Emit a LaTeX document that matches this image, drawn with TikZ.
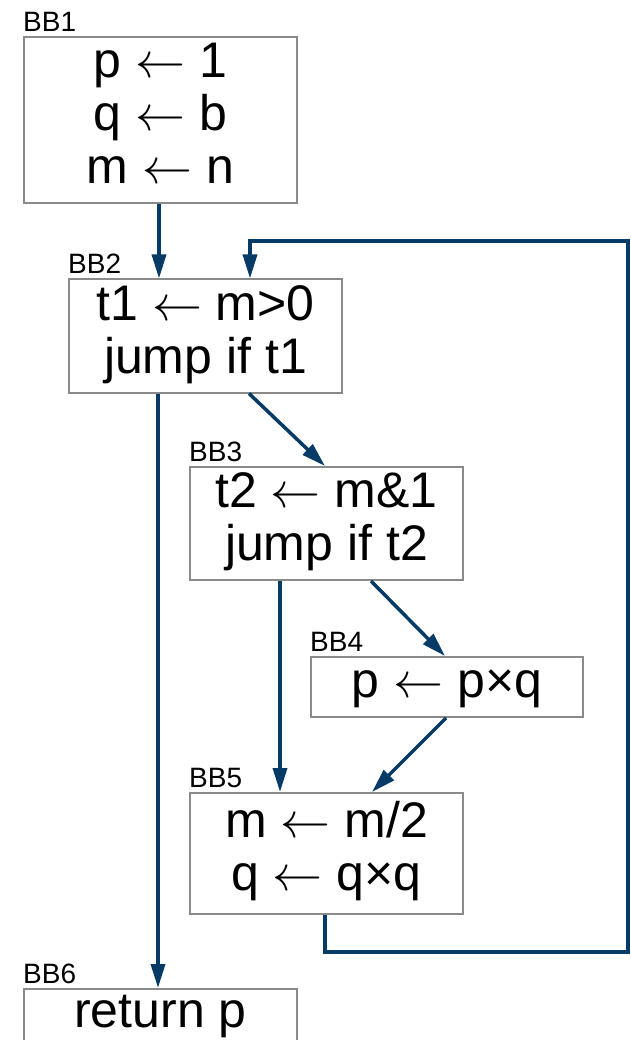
\documentclass[tikz,border=0pt]{standalone}
\usepackage{fontspec}
\usepackage{graphicx}
\setmainfont{Liberation Sans}
\usetikzlibrary{arrows.meta,calc}
\definecolor{edge}{HTML}{053B66}
\definecolor{frame}{HTML}{8A8A8A}
\newcommand{\lnstrut}{\rule[-15pt]{0pt}{51pt}}
\newcommand{\la}{\scalebox{5}{\fontsize{10}{12}\selectfont$\leftarrow$}}
\begin{document}
\begin{tikzpicture}[x=1pt,y=-1pt,
  block/.style={draw=frame,line width=2pt,fill=white,inner sep=0pt,align=center,font=\fontsize{50}{53}\selectfont},
  tag/.style={anchor=base west,inner sep=0pt,font=\fontsize{28}{30}\selectfont},
  flow/.style={draw=edge,line width=3.5pt,-{Triangle[length=24pt,width=14pt]}}]
\clip (0,0) rectangle (630,1040);
\useasboundingbox (0,0) rectangle (630,1040);
\fill[white] (0,0) rectangle (630,1040);

\node[block,minimum width=273pt,minimum height=166pt] (bb1) at (160.5,120)
  {\lnstrut p \la{} 1\\ \lnstrut q \la{} b\\ \lnstrut m \la{} n};
\node[block,minimum width=273pt,minimum height=113pt] (bb2) at (205.5,336)
  {\lnstrut t1 \la{} m>0\\ \lnstrut jump if t1};
\node[block,minimum width=273pt,minimum height=113pt] (bb3) at (326.5,523.5)
  {\lnstrut t2 \la{} m\&1\\ \lnstrut jump if t2};
\node[block,minimum width=272pt,minimum height=60pt] (bb4) at (447,687)
  {\lnstrut p \la{} p×q};
\node[block,minimum width=273pt,minimum height=121pt] (bb5) at (326.5,853.5)
  {\lnstrut m \la{} m/2\\ \lnstrut q \la{} q×q};
\node[block,minimum width=273pt,minimum height=55pt] (bb6) at (160.5,1016.5)
  {\lnstrut return p};

\node[tag] (l1) at ($(bb1.north west)+(0,-4.5)$) {BB1};
\node[tag] (l2) at ($(bb2.north west)+(0,-4.5)$) {BB2};
\node[tag] (l3) at ($(bb3.north west)+(0,-4.5)$) {BB3};
\node[tag] (l4) at ($(bb4.north west)+(0,-4.5)$) {BB4};
\node[tag] (l5) at ($(bb5.north west)+(0,-4.5)$) {BB5};
\node[tag] (l6) at ($(bb6.north west)+(0,-4.5)$) {BB6};

\coordinate (s1) at ($(bb1.south west)+(136,0)$);
\draw[flow] (s1) -- (s1 |- bb2.north);

\coordinate (s2a) at ($(bb2.south west)+(90,0)$);
\draw[flow] (s2a) -- (s2a |- bb6.north);

\coordinate (s2b) at ($(bb2.south west)+(181,0)$);
\coordinate (t3) at ($(bb3.north west)+(136,0)$);
\draw[flow] (s2b) -- (t3);

\coordinate (s3a) at ($(bb3.south west)+(91,0)$);
\draw[flow] (s3a) -- (s3a |- bb5.north);

\coordinate (s3b) at ($(bb3.south west)+(182,0)$);
\coordinate (t4) at ($(bb4.north west)+(135,0)$);
\draw[flow] (s3b) -- (t4);

\coordinate (s4) at ($(bb4.south west)+(136,0)$);
\coordinate (t5) at ($(bb5.north west)+(183,0)$);
\draw[flow] (s4) -- (t5);

\coordinate (s5) at ($(bb5.south west)+(136,0)$);
\coordinate (c1) at (628,952);
\coordinate (c2) at (628,241);
\coordinate (t2) at ($(bb2.north west)+(182,0)$);
\draw[flow] (s5) |- (c1) -- (c2) -| (t2);
\end{tikzpicture}
\end{document}
